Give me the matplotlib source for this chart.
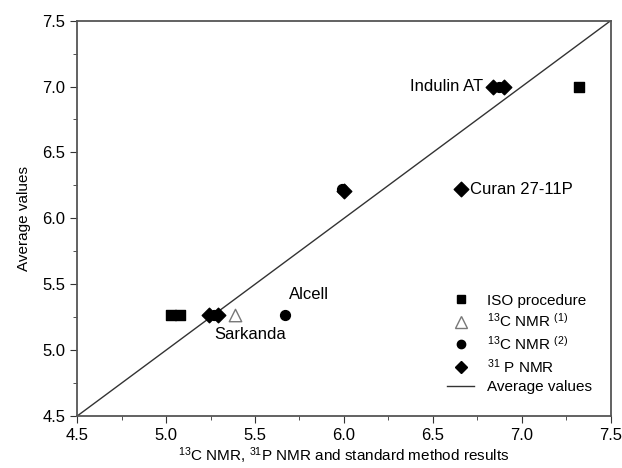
import matplotlib
matplotlib.use("Agg")
from matplotlib import pyplot as plt
from matplotlib.lines import Line2D
import numpy as np

plt.rcParams['font.family'] = ['Liberation Sans', 'DejaVu Sans']
plt.rcParams['mathtext.default'] = 'regular'

# data
iso_x = [5.03, 5.08, 7.32]
iso_y = [5.27, 5.27, 7.0]
c13_1_x = [5.39]
c13_1_y = [5.27]
c13_2_x = [5.27, 5.99, 5.67, 6.87]
c13_2_y = [5.27, 6.22, 5.27, 7.0]
p31_x = [5.24, 5.29, 6.0, 6.66, 6.84, 6.9]
p31_y = [5.27, 5.27, 6.21, 6.22, 7.0, 7.0]
avg_line = [4.5, 7.5]

fig = plt.figure(figsize=(6.22, 4.68), dpi=100)
ax = fig.add_axes([0.124, 0.111, 0.858, 0.845])

ax.plot(avg_line, avg_line, color='#333333', lw=1.0)
ax.scatter(iso_x, iso_y, marker='s', s=55, color='black', zorder=3)
ax.scatter(c13_1_x, c13_1_y, marker='^', s=80, facecolors='white', edgecolors='#777777', linewidths=1.0, zorder=3)
ax.scatter(c13_2_x, c13_2_y, marker='o', s=50, color='black', zorder=3)
ax.scatter(p31_x, p31_y, marker='D', s=55, color='black', zorder=4)

ax.text(6.78, 7.0, 'Indulin AT', ha='right', va='center', fontsize=12)
ax.text(6.71, 6.22, 'Curan 27-11P', ha='left', va='center', fontsize=12)
ax.text(5.69, 5.42, 'Alcell', ha='left', va='center', fontsize=12)
ax.text(5.47, 5.12, 'Sarkanda', ha='center', va='center', fontsize=12)

ax.set_xlim(4.5, 7.5)
ax.set_ylim(4.5, 7.5)
ax.set_xticks(np.arange(4.5, 7.51, 0.5))
ax.set_yticks(np.arange(4.5, 7.51, 0.5))
ax.set_xticks(np.arange(4.5, 7.51, 0.25), minor=True)
ax.set_yticks(np.arange(4.5, 7.51, 0.25), minor=True)
ax.tick_params(which='major', direction='out', length=5, labelsize=12, color='#333333')
ax.tick_params(which='minor', direction='out', length=3, color='#333333')
for sp in ax.spines.values():
    sp.set_color('#555555')
    sp.set_linewidth(1.3)

ax.set_xlabel('$^{13}$C NMR, $^{31}$P NMR and standard method results', fontsize=11, labelpad=2)
ax.set_ylabel('Average values', fontsize=11, labelpad=8)

handles = [
    Line2D([], [], marker='s', color='black', ls='none', markersize=6),
    Line2D([], [], marker='^', markerfacecolor='white', markeredgecolor='#777777', ls='none', markersize=8),
    Line2D([], [], marker='o', color='black', ls='none', markersize=6),
    Line2D([], [], marker='D', color='black', ls='none', markersize=6),
    Line2D([], [], color='#333333', lw=1.0),
]
labels = ['ISO procedure', '$^{13}$C NMR $^{(1)}$', '$^{13}$C NMR $^{(2)}$', '$^{31}$ P NMR', 'Average values']
ax.legend(handles, labels, loc='lower right', frameon=False, fontsize=11,
          handlelength=1.8, labelspacing=0.3, bbox_to_anchor=(0.99, 0.02))

fig.savefig('out.png', dpi=100)
